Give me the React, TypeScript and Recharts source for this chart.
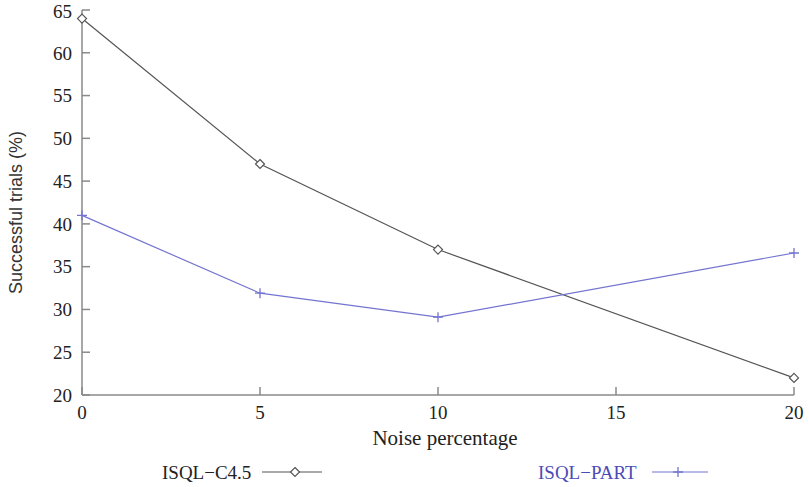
import React from 'react';
import { LineChart, Line, XAxis, YAxis, Legend } from 'recharts';

const noise = [0, 5, 10, 20];
const c45 = [64, 47, 37, 22];
const part = [41, 31.9, 29.1, 36.6];
const xTicks = [0, 5, 10, 15, 20];
const yTicks = [20, 25, 30, 35, 40, 45, 50, 55, 60, 65];

const data = noise.map((n, i) => ({ n, c45: c45[i], part: part[i] }));

const AXIS = '#8a8a8a';
const C45 = '#555555';
const PART_LINE = '#7474d0';
const PART_TEXT = '#4b4bb5';
const SERIF = "'Liberation Serif', Tinos, 'Times New Roman', Times, 'DejaVu Serif', 'Noto Serif', FreeSerif, serif";
const SANS = "'Liberation Sans', Arial, sans-serif";

const Diamond = (props: any) => {
  const { cx, cy } = props;
  if (cx == null || cy == null) return null;
  const r = 4.5;
  return (
    <path
      d={`M${cx},${cy - r}L${cx + r},${cy}L${cx},${cy + r}L${cx - r},${cy}Z`}
      fill="#fff"
      stroke={C45}
      strokeWidth={1.2}
    />
  );
};

const Plus = (props: any) => {
  const { cx, cy } = props;
  if (cx == null || cy == null) return null;
  const r = 5;
  return (
    <path
      d={`M${cx - r},${cy}L${cx + r},${cy}M${cx},${cy - r}L${cx},${cy + r}`}
      stroke={PART_LINE}
      strokeWidth={1.3}
      fill="none"
    />
  );
};

const LegendContent = () => (
  <svg width={809} height={37} style={{ display: 'block' }}>
    <text x={162} y={29} style={{ fontFamily: SERIF, fontSize: 19 }} fill="#222">
      ISQL−C4.5
    </text>
    <line x1={262} x2={322} y1={22} y2={22} stroke={C45} strokeWidth={1.2} />
    <Diamond cx={295} cy={22} />
    <text x={538} y={29} style={{ fontFamily: SERIF, fontSize: 19 }} fill={PART_TEXT}>
      ISQL−PART
    </text>
    <line x1={652} x2={708} y1={22} y2={22} stroke={PART_LINE} strokeWidth={1.2} />
    <Plus cx={678} cy={22} />
  </svg>
);

const HiddenTick = () => <g />;

const tickStyle = { fill: '#222', fontSize: 19, fontFamily: SERIF, style: { fontFamily: SERIF } };

export default function App() {
  return (
    <div style={{ position: 'absolute', left: 0, top: 0, width: 809, height: 487, background: '#fff', fontFamily: SERIF }}>
      <LineChart
        width={809}
        height={487}
        data={data}
        margin={{ top: 10, right: 15, left: 0, bottom: 0 }}
        style={{ fontFamily: SERIF }}
      >
        <XAxis
          xAxisId="b"
          dataKey="n"
          type="number"
          domain={[0, 20]}
          ticks={xTicks}
          orientation="bottom"
          height={55}
          stroke={AXIS}
          strokeWidth={1.5}
          tickSize={-8}
          tickMargin={19}
          tick={tickStyle}
          label={{
            value: 'Noise percentage',
            position: 'insideBottom',
            offset: 5,
            dx: 7,
            style: { fill: '#222', fontSize: 21, fontFamily: SERIF },
          }}
        />
        <XAxis
          xAxisId="t"
          dataKey="n"
          type="number"
          domain={[0, 20]}
          ticks={xTicks}
          orientation="top"
          height={0}
          mirror
          stroke={AXIS}
          strokeWidth={1.5}
          tickSize={8}
          tick={HiddenTick}
        />
        <YAxis
          yAxisId="l"
          type="number"
          domain={[20, 65]}
          ticks={yTicks}
          orientation="left"
          width={82}
          stroke={AXIS}
          strokeWidth={1.5}
          tickSize={-8}
          tickMargin={18}
          tick={tickStyle}
          label={{
            value: 'Successful trials (%)',
            angle: -90,
            position: 'insideLeft',
            offset: 16,
            dy: 10,
            style: { textAnchor: 'middle', fill: '#333', fontSize: 18, fontFamily: SANS },
          }}
        />
        <YAxis
          yAxisId="r"
          type="number"
          domain={[20, 65]}
          ticks={yTicks}
          orientation="right"
          width={0}
          mirror
          stroke={AXIS}
          strokeWidth={1.5}
          tickSize={8}
          tick={HiddenTick}
        />
        <Legend verticalAlign="bottom" content={LegendContent} wrapperStyle={{ left: 0, width: 809, height: 37 }} />
        <Line
          xAxisId="b"
          yAxisId="l"
          type="linear"
          dataKey="c45"
          stroke={C45}
          strokeWidth={1.2}
          dot={<Diamond />}
          activeDot={false}
          isAnimationActive={false}
        />
        <Line
          xAxisId="b"
          yAxisId="l"
          type="linear"
          dataKey="part"
          stroke={PART_LINE}
          strokeWidth={1.2}
          dot={<Plus />}
          activeDot={false}
          isAnimationActive={false}
        />
      </LineChart>
    </div>
  );
}
